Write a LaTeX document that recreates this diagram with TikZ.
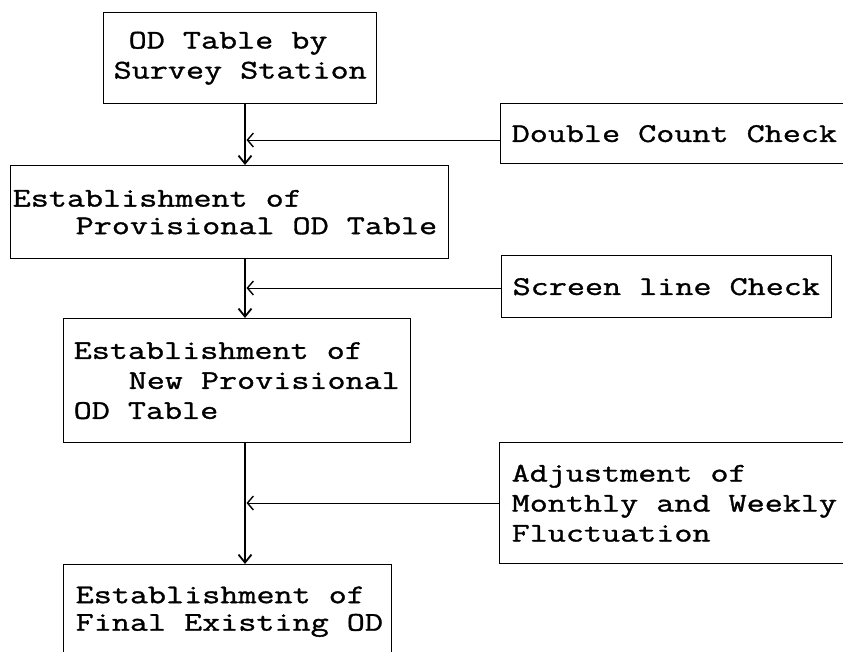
\documentclass[tikz,border=0pt]{standalone}
\usepackage{fontspec}
\newfontfamily\odmono[FakeStretch=1.3,FakeBold=1.2]{Latin Modern Mono}
\newcommand\ods{\phantom{x}}
\usetikzlibrary{arrows.meta}
\begin{document}
\begin{tikzpicture}[x=1pt,y=-1pt,
  box/.style={draw, line width=1.4pt, rectangle, anchor=north west,
    inner xsep=0pt, inner ysep=0pt, align=left,
    font=\odmono\fontsize{27}{30}\selectfont},
  tight/.style={font=\odmono\fontsize{27}{27.5}\selectfont},
  spine/.style={line width=2pt},
  feed/.style={line width=1pt},
  downarrow/.style={-{Straight Barb[length=8pt,width=13pt,line width=1.8pt]}},
  feedarrow/.style={-{Straight Barb[length=6pt,width=14pt,line width=1.4pt]}}
]
\clip (0,0) rectangle (843,651);
\fill[white] (0,0) rectangle (843,651);

\coordinate (sp) at (245,0);
\coordinate (j1) at (246.5,140);
\coordinate (j2) at (246.5,288);
\coordinate (j3) at (246.5,503);

\node[box, text width=273pt, minimum height=91pt] (b1) at (103,12)
  {\mbox{\hspace*{25pt}OD\ods Table\ods by}\\\mbox{\hspace*{10pt}Survey\ods Station}};
\node[box, tight, text width=438pt, minimum height=93pt] (b2) at (10,165)
  {\mbox{\hspace*{2pt}Establishment\ods of}\\\mbox{\hspace*{65pt}Provisional\ods OD\ods Table}};
\node[box, text width=347pt, minimum height=124pt] (b3) at (63,318)
  {\mbox{\hspace*{10pt}Establishment\ods of}\\\mbox{\hspace*{65pt}New\ods Provisional}\\\mbox{\hspace*{10pt}OD\ods Table}};
\node[box, tight, text width=328pt, minimum height=94pt] (b4) at (63,564)
  {\mbox{\hspace*{12pt}Establishment\ods of}\\\mbox{\hspace*{12pt}Final\ods Existing\ods OD}};

\node[box, text width=370pt, minimum height=60pt] (dc) at (500,103)
  {\mbox{\hspace*{11pt}Double\ods Count\ods Check}};
\node[box, text width=330pt, minimum height=62pt] (sc) at (501,255)
  {\mbox{\hspace*{11pt}Screen\ods line\ods Check}};
\node[box, text width=370pt, minimum height=121pt] (adj) at (499,442)
  {\mbox{\hspace*{12pt}Adjustment\ods of}\\\mbox{\hspace*{12pt}Monthly\ods and\ods Weekly}\\\mbox{\hspace*{12pt}Fluctuation}};

\draw[spine, downarrow] (b1.south -| sp) -- (b2.north -| sp);
\draw[spine, downarrow] (b2.south -| sp) -- (b3.north -| sp);
\draw[spine, downarrow] (b3.south -| sp) -- (b4.north -| sp);

\draw[feed, feedarrow] (dc.west |- j1) -- (j1);
\draw[feed, feedarrow] (sc.west |- j2) -- (j2);
\draw[feed, feedarrow] (adj.west |- j3) -- (j3);
\end{tikzpicture}
\end{document}
